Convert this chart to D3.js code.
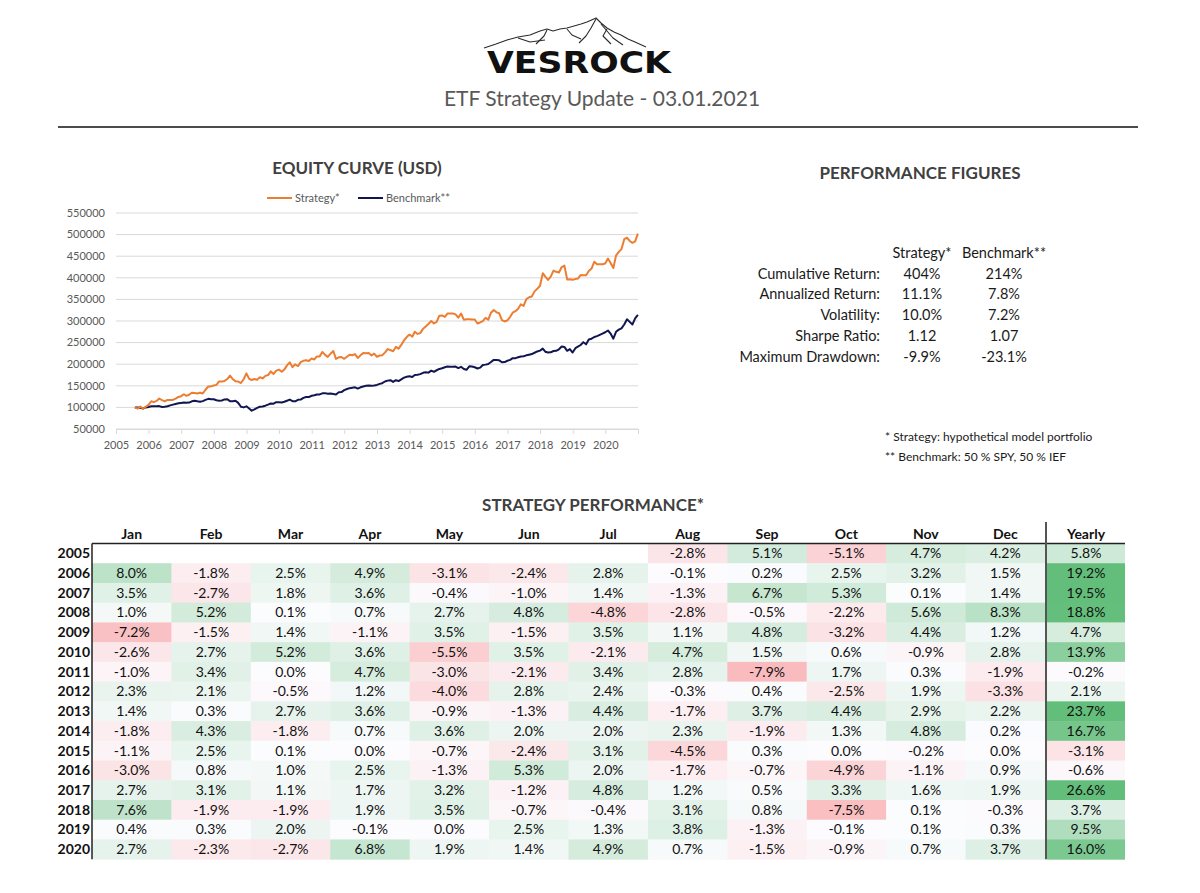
<!DOCTYPE html>
<html>
<head>
<meta charset="utf-8">
<script src="https://cdn.jsdelivr.net/npm/d3@7"></script>
<style>
  body { margin: 0; background: #fff; }
  svg { font-family: Lato, "Open Sans", sans-serif; }
</style>
</head>
<body>
<svg id="page" width="1200" height="893"></svg>
<script>
// ---- data ----

// equity curves, month-end values from Jul 2005 to Dec 2020 (USD)
var strategyValues = [
  100000, 97200, 102200, 97000, 101500, 105800,
  114200, 112200, 115000, 120600, 116900, 114100, 117300, 117100, 117400, 120300, 124200, 126000,
  130400, 126900, 129200, 133800, 133300, 132000, 133800, 132100, 140900, 148400, 148600, 150600,
  152200, 160100, 160200, 161300, 165700, 173700, 165300, 160700, 159900, 156400, 165100, 178800,
  166000, 163500, 165800, 163900, 169700, 167100, 173000, 174900, 183300, 177400, 185200, 187400,
  182600, 187500, 197200, 204300, 193100, 199900, 195700, 204900, 207900, 209200, 207300, 213100,
  211000, 218100, 218100, 228400, 221500, 216900, 224300, 230500, 212300, 215900, 216600, 212500,
  217400, 221900, 220800, 223500, 214500, 220500, 225800, 225100, 226000, 220400, 224600, 217200,
  220200, 220900, 226800, 235000, 232900, 229900, 240000, 235900, 244600, 255400, 262800, 268600,
  263700, 275100, 270100, 272000, 281800, 287500, 293200, 299900, 294200, 298100, 312400, 313000,
  309600, 317300, 317600, 317600, 315400, 307800, 317400, 303100, 304000, 304000, 303400, 303400,
  294300, 296600, 299600, 307100, 303100, 319200, 325600, 320000, 317800, 302200, 298900, 301600,
  309700, 319300, 322800, 328300, 338800, 334800, 350800, 355000, 356800, 368600, 374500, 381600,
  410600, 402800, 395100, 402600, 416700, 413800, 412200, 424900, 428300, 396200, 396600, 395400,
  397000, 398200, 406200, 405800, 405800, 415900, 421300, 437300, 431600, 431200, 431600, 432900,
  444600, 434400, 422700, 451400, 460000, 466400, 489300, 492700, 485300, 480900, 484300, 502200
];

var benchmarkValues = [
  100000, 99500, 99000, 97500, 100000, 101000,
  102500, 102600, 102500, 103000, 101000, 101300, 102500, 104600, 106400, 108000, 109500, 110300,
  111200, 110500, 111200, 114000, 115300, 114000, 113000, 114500, 117500, 119800, 119000, 118800,
  116500, 115500, 116000, 118500, 119000, 114500, 114000, 115300, 110500, 101500, 100000, 102500,
  97500, 92500, 95500, 99000, 101500, 102000, 104000, 106500, 109000, 108500, 112000, 112000,
  111500, 113000, 115500, 118000, 114500, 114000, 117500, 118000, 122000, 124000, 124000, 127000,
  128000, 130000, 130000, 132500, 133000, 131500, 132000, 131000, 130000, 135000, 135500, 140000,
  142500, 144500, 145500, 146500, 143500, 146500, 148500, 150000, 150800, 150000, 150800, 152000,
  154500, 156000, 160000, 162000, 163000, 159000, 163000, 161000, 165000, 169000, 171000, 172000,
  170500, 175000, 175500, 177000, 180000, 181500, 180500, 185000, 182500, 186000, 189000, 190500,
  193000, 194500, 194000, 194000, 194500, 191000, 194000, 189000, 187000, 195000, 194500, 193000,
  190000, 192000, 198000, 199000, 200500, 205000, 210000, 209500, 209000, 204500, 205000, 208000,
  210000, 214000, 214000, 216000, 218000, 218500, 220500, 222000, 223500, 226500, 229500, 231500,
  236000, 229000, 227000, 227500, 230500, 231000, 234500, 241000, 240000, 231000, 235000, 227000,
  237000, 240500, 244500, 251000, 246000, 257000, 259000, 263000, 265000, 268000, 271000, 274000,
  278000, 271000, 259000, 275000, 280000, 283000, 292000, 304000, 298000, 292000, 306000, 314000
];

var yTicks = [50000, 100000, 150000, 200000, 250000, 300000, 350000, 400000, 450000, 500000, 550000];

// performance figures
var figureLabels = ["Cumulative Return:", "Annualized Return:", "Volatility:", "Sharpe Ratio:", "Maximum Drawdown:"];
var figureStrategy = ["404%", "11.1%", "10.0%", "1.12", "-9.9%"];
var figureBenchmark = ["214%", "7.8%", "7.2%", "1.07", "-23.1%"];

// monthly performance table (%)
var monthNames = ["Jan", "Feb", "Mar", "Apr", "May", "Jun", "Jul", "Aug", "Sep", "Oct", "Nov", "Dec"];
var tableYears = [2005, 2006, 2007, 2008, 2009, 2010, 2011, 2012, 2013, 2014, 2015, 2016, 2017, 2018, 2019, 2020];
var monthlyReturns = [
  [null, null, null, null, null, null, null, -2.8, 5.1, -5.1, 4.7, 4.2],
  [8.0, -1.8, 2.5, 4.9, -3.1, -2.4, 2.8, -0.1, 0.2, 2.5, 3.2, 1.5],
  [3.5, -2.7, 1.8, 3.6, -0.4, -1.0, 1.4, -1.3, 6.7, 5.3, 0.1, 1.4],
  [1.0, 5.2, 0.1, 0.7, 2.7, 4.8, -4.8, -2.8, -0.5, -2.2, 5.6, 8.3],
  [-7.2, -1.5, 1.4, -1.1, 3.5, -1.5, 3.5, 1.1, 4.8, -3.2, 4.4, 1.2],
  [-2.6, 2.7, 5.2, 3.6, -5.5, 3.5, -2.1, 4.7, 1.5, 0.6, -0.9, 2.8],
  [-1.0, 3.4, 0.0, 4.7, -3.0, -2.1, 3.4, 2.8, -7.9, 1.7, 0.3, -1.9],
  [2.3, 2.1, -0.5, 1.2, -4.0, 2.8, 2.4, -0.3, 0.4, -2.5, 1.9, -3.3],
  [1.4, 0.3, 2.7, 3.6, -0.9, -1.3, 4.4, -1.7, 3.7, 4.4, 2.9, 2.2],
  [-1.8, 4.3, -1.8, 0.7, 3.6, 2.0, 2.0, 2.3, -1.9, 1.3, 4.8, 0.2],
  [-1.1, 2.5, 0.1, 0.0, -0.7, -2.4, 3.1, -4.5, 0.3, 0.0, -0.2, 0.0],
  [-3.0, 0.8, 1.0, 2.5, -1.3, 5.3, 2.0, -1.7, -0.7, -4.9, -1.1, 0.9],
  [2.7, 3.1, 1.1, 1.7, 3.2, -1.2, 4.8, 1.2, 0.5, 3.3, 1.6, 1.9],
  [7.6, -1.9, -1.9, 1.9, 3.5, -0.7, -0.4, 3.1, 0.8, -7.5, 0.1, -0.3],
  [0.4, 0.3, 2.0, -0.1, 0.0, 2.5, 1.3, 3.8, -1.3, -0.1, 0.1, 0.3],
  [2.7, -2.3, -2.7, 6.8, 1.9, 1.4, 4.9, 0.7, -1.5, -0.9, 0.7, 3.7]
];
var yearlyReturns = [5.8, 19.2, 19.5, 18.8, 4.7, 13.9, -0.2, 2.1, 23.7, 16.7, -3.1, -0.6, 26.6, 3.7, 9.5, 16.0];

// ---- drawing ----
var svg = d3.select("#page");
var textDark = "#1a1a1a", textGray = "#404040", axisGray = "#595959";

// logo: mountain sketch + name
var logo = svg.append("g").attr("fill", "none").attr("stroke", "#2b2b2b").attr("stroke-width", 1.1)
  .attr("stroke-linejoin", "round");
logo.append("path").attr("d", "M484,48 L496,44 L507,40 L518,37 L530,35 L540,31 L547,29 L553,31 L560,29 L567,28 L574,26 L581,24 L587,22 L596,18 L601,23 L607,28 L614,32 L621,35 L628,39 L635,42 L646,47");
logo.append("path").attr("d", "M596,19 L591,28 L586,36 L579,43");
logo.append("path").attr("d", "M547,30 L544,36 L536,44");
logo.append("path").attr("d", "M567,29 L572,35 L581,39");
logo.append("path").attr("d", "M607,29 L603,36 L611,44");
logo.append("path").attr("d", "M518,38 L530,42 L545,40");
logo.append("path").attr("d", "M601,24 L613,38 L623,45");
svg.append("text").attr("x", 487).attr("y", 73)
  .attr("textLength", 184).attr("lengthAdjust", "spacingAndGlyphs")
  .style("font-family", "'DejaVu Sans', sans-serif").style("font-weight", "bold")
  .style("font-size", "31px").attr("fill", "#111").text("VESROCK");

svg.append("text").attr("x", 602).attr("y", 106).attr("text-anchor", "middle")
  .style("font-size", "21px").attr("fill", axisGray).text("ETF Strategy Update - 03.01.2021");

svg.append("line").attr("x1", 58).attr("x2", 1138).attr("y1", 127).attr("y2", 127)
  .attr("stroke", "#111").attr("stroke-width", 1.4);

// ---- equity curve ----
var dates = strategyValues.map(function(d, i) { return new Date(2005, 7 + i, 0); });
var x = d3.scaleTime().domain([new Date(2005, 0, 1), new Date(2021, 0, 1)]).range([116, 638]);
var y = d3.scaleLinear().domain([50000, 550000]).range([429, 213]);

svg.append("text").attr("x", 357).attr("y", 174).attr("text-anchor", "middle")
  .style("font-size", "17px").style("font-weight", "bold").attr("fill", textGray)
  .text("EQUITY CURVE (USD)");

var grid = svg.append("g");
grid.selectAll("line").data(yTicks).enter().append("line")
  .attr("x1", x.range()[0]).attr("x2", x.range()[1])
  .attr("y1", d => y(d)).attr("y2", d => y(d))
  .attr("stroke", "#d9d9d9").attr("stroke-width", 1);
grid.selectAll("text").data(yTicks).enter().append("text")
  .attr("x", 105).attr("y", d => y(d)).attr("dy", "0.35em").attr("text-anchor", "end")
  .style("font-size", "11px").attr("fill", axisGray).text(d => d);

var xAxis = d3.axisBottom(x).ticks(d3.timeYear.every(1)).tickSizeInner(5).tickSizeOuter(0)
  .tickFormat(d => d.getFullYear() < 2021 ? d3.timeFormat("%Y")(d) : "");
var gx = svg.append("g").attr("transform", "translate(0," + y(50000) + ")").call(xAxis);
gx.select(".domain").attr("stroke", "#d9d9d9");
gx.selectAll(".tick line").attr("stroke", "#d9d9d9");
gx.selectAll(".tick text").attr("fill", axisGray).style("font-size", "11px")
  .style("font-family", "Lato, sans-serif").attr("dy", "1.1em");

var line = d3.line().x((d, i) => x(dates[i])).y(d => y(d));
svg.append("path").datum(benchmarkValues).attr("d", line).attr("fill", "none")
  .attr("stroke", "#111650").attr("stroke-width", 2).attr("stroke-linejoin", "round");
svg.append("path").datum(strategyValues).attr("d", line).attr("fill", "none")
  .attr("stroke", "#ED7D31").attr("stroke-width", 2).attr("stroke-linejoin", "round");

// legend
var legendItems = [["Strategy*", "#ED7D31", 267], ["Benchmark**", "#111650", 358]];
var lg = svg.selectAll(".lg").data(legendItems).enter().append("g").attr("class", "lg");
lg.append("line").attr("x1", d => d[2]).attr("x2", d => d[2] + 25).attr("y1", 198).attr("y2", 198)
  .attr("stroke", d => d[1]).attr("stroke-width", 2);
lg.append("text").attr("x", d => d[2] + 28).attr("y", 198).attr("dy", "0.35em")
  .style("font-size", "11px").attr("fill", axisGray).text(d => d[0]);

// ---- performance figures ----
svg.append("text").attr("x", 920).attr("y", 179).attr("text-anchor", "middle")
  .style("font-size", "17px").style("font-weight", "bold").attr("fill", textGray)
  .text("PERFORMANCE FIGURES");

var colS = 922, colB = 1004, rowY0 = 273.5, rowH = 20.8, figSize = "14.5px";
svg.append("text").attr("x", colS).attr("y", rowY0 - rowH).attr("dy", "0.35em").attr("text-anchor", "middle")
  .style("font-size", figSize).attr("fill", textDark).text("Strategy*");
svg.append("text").attr("x", colB).attr("y", rowY0 - rowH).attr("dy", "0.35em").attr("text-anchor", "middle")
  .style("font-size", figSize).attr("fill", textDark).text("Benchmark**");
var fig = svg.selectAll(".fig").data(figureLabels).enter().append("g").attr("class", "fig")
  .attr("transform", (d, i) => "translate(0," + (rowY0 + i * rowH) + ")");
fig.append("text").attr("x", 880).attr("dy", "0.35em").attr("text-anchor", "end")
  .style("font-size", figSize).attr("fill", textDark).text(d => d);
fig.append("text").attr("x", colS).attr("dy", "0.35em").attr("text-anchor", "middle")
  .style("font-size", figSize).attr("fill", textDark).text((d, i) => figureStrategy[i]);
fig.append("text").attr("x", colB).attr("dy", "0.35em").attr("text-anchor", "middle")
  .style("font-size", figSize).attr("fill", textDark).text((d, i) => figureBenchmark[i]);

svg.append("text").attr("x", 885).attr("y", 437).attr("dy", "0.35em")
  .style("font-size", "12px").attr("fill", textDark).text("* Strategy: hypothetical model portfolio");
svg.append("text").attr("x", 885).attr("y", 457).attr("dy", "0.35em")
  .style("font-size", "12px").attr("fill", textDark).text("** Benchmark: 50 % SPY, 50 % IEF");

// ---- strategy performance table ----
svg.append("text").attr("x", 593).attr("y", 511).attr("text-anchor", "middle")
  .style("font-size", "17px").style("font-weight", "bold").attr("fill", textGray)
  .text("STRATEGY PERFORMANCE*");

var tableTop = 543.5, cellH = 19.73, cellSize = "14px";
var colX = d3.scaleBand().domain(monthNames).range([92, 1045]);
var yearX = [1047, 1125];
var rowY = d3.scaleBand().domain(tableYears).range([tableTop, tableTop + cellH * tableYears.length]);
var color = d3.scaleLinear().domain([-18, 0, 19]).range(["#F8696B", "#FCFCFF", "#63BE7B"]).clamp(true);
var fmt = v => v.toFixed(1) + "%";

// month header
svg.selectAll(".mh").data(monthNames.concat(["Yearly"])).enter().append("text")
  .attr("x", (d, i) => i < 12 ? colX(d) + colX.bandwidth() / 2 : (yearX[0] + yearX[1]) / 2)
  .attr("y", 534).attr("dy", "0.35em").attr("text-anchor", "middle")
  .style("font-size", cellSize).style("font-weight", "bold").attr("fill", "#111").text(d => d);

var rows = svg.selectAll(".row").data(tableYears).enter().append("g")
  .attr("transform", d => "translate(0," + rowY(d) + ")");
rows.append("text").attr("x", 90).attr("y", cellH / 2).attr("dy", "0.35em").attr("text-anchor", "end")
  .style("font-size", cellSize).style("font-weight", "bold").attr("fill", "#111").text(d => d);

rows.each(function(yr, r) {
  var g = d3.select(this);
  var cells = monthlyReturns[r].map((v, m) => ({ v: v, m: monthNames[m] })).filter(c => c.v !== null);
  g.selectAll("rect.c").data(cells).enter().append("rect")
    .attr("x", c => colX(c.m)).attr("width", colX.bandwidth() + 0.5)
    .attr("y", 0).attr("height", cellH + 0.5).attr("fill", c => color(c.v));
  g.selectAll("text.c").data(cells).enter().append("text")
    .attr("x", c => colX(c.m) + colX.bandwidth() / 2).attr("y", cellH / 2).attr("dy", "0.35em")
    .attr("text-anchor", "middle").style("font-size", cellSize).attr("fill", "#111").text(c => fmt(c.v));
  g.append("rect").attr("x", yearX[0]).attr("width", yearX[1] - yearX[0])
    .attr("y", 0).attr("height", cellH + 0.5).attr("fill", color(yearlyReturns[r]));
  g.append("text").attr("x", (yearX[0] + yearX[1]) / 2).attr("y", cellH / 2).attr("dy", "0.35em")
    .attr("text-anchor", "middle").style("font-size", cellSize).attr("fill", "#111").text(fmt(yearlyReturns[r]));
});

var tableBottom = tableTop + cellH * tableYears.length;
svg.append("line").attr("x1", 92).attr("x2", 1125).attr("y1", tableTop).attr("y2", tableTop)
  .attr("stroke", "#222").attr("stroke-width", 1.5);
svg.append("line").attr("x1", 92).attr("x2", 92).attr("y1", tableTop).attr("y2", tableBottom)
  .attr("stroke", "#222").attr("stroke-width", 1.5);
svg.append("line").attr("x1", 1046).attr("x2", 1046).attr("y1", 522).attr("y2", tableBottom)
  .attr("stroke", "#555").attr("stroke-width", 2);
</script>
</body>
</html>
